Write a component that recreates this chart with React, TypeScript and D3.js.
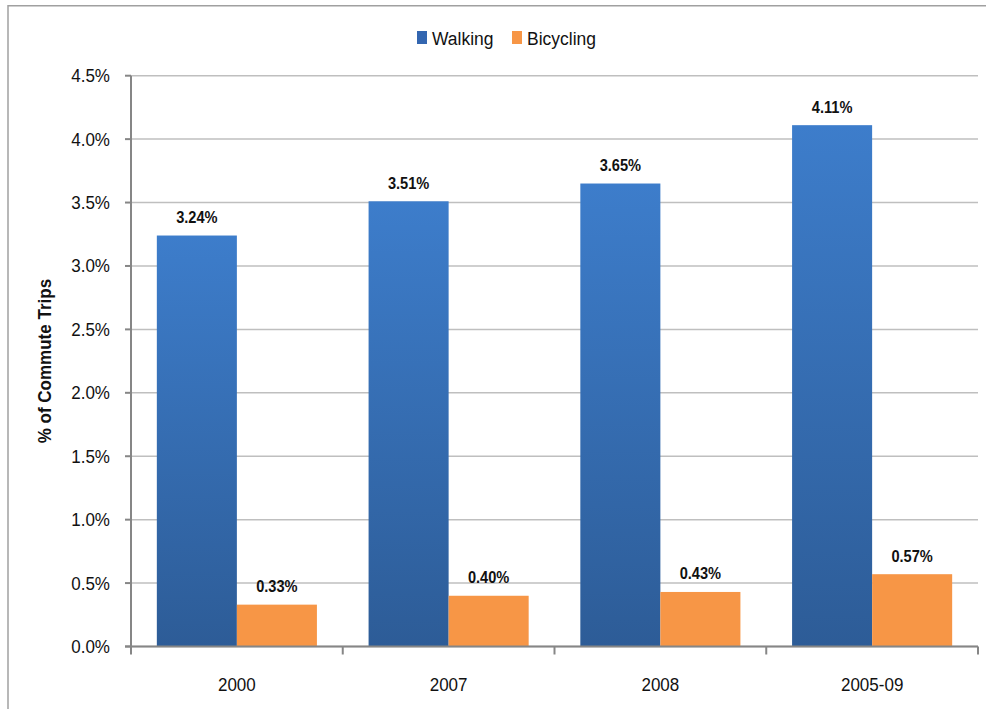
import React from "react";
import * as d3 from "d3";

const categories = ["2000", "2007", "2008", "2005-09"];
const walking = [3.24, 3.51, 3.65, 4.11];
const bicycling = [0.33, 0.4, 0.43, 0.57];
const yTicks = [0, 0.5, 1.0, 1.5, 2.0, 2.5, 3.0, 3.5, 4.0, 4.5];
const seriesNames = ["Walking", "Bicycling"];

const W = 986;
const H = 709;
const left = 131;
const right = 978;
const top = 75.7;
const bottom = 646.5;
const font = "'Liberation Sans', Arial, sans-serif";

export default function App() {
  const x = d3.scaleBand<string>().domain(categories).range([left, right]).paddingInner(0.244).paddingOuter(0.122);
  const x1 = d3.scaleBand<string>().domain(seriesNames).range([0, x.bandwidth()]);
  const y = d3.scaleLinear().domain([0, 4.5]).range([bottom, top]);
  const step = x.step();
  const bounds = categories.map((_, i) => left + i * step).concat([right]);
  const data = [walking, bicycling];

  return (
    <svg width={W} height={H} style={{ position: "absolute", left: 0, top: 0, background: "#fff" }}>
      <defs>
        <linearGradient id="wg" x1="0" y1="0" x2="0" y2="1">
          <stop offset="0%" stopColor="#3d7dcb" />
          <stop offset="100%" stopColor="#2d5c97" />
        </linearGradient>
      </defs>
      <line x1={8} x2={986} y1={5.7} y2={5.7} stroke="#a0a0a0" strokeWidth={1.5} />
      <line x1={8} x2={8} y1={5} y2={709} stroke="#a0a0a0" strokeWidth={1.5} />
      {yTicks.map((t) => (
        <line key={"g" + t} x1={left} x2={right} y1={y(t)} y2={y(t)} stroke="#bfbfbf" strokeWidth={1.5} />
      ))}
      {categories.map((c, i) =>
        seriesNames.map((s, j) => {
          const v = data[j][i];
          const bx = (x(c) as number) + (x1(s) as number);
          const cx = bx + x1.bandwidth() / 2;
          return (
            <g key={c + s}>
              <rect
                x={bx}
                y={y(v)}
                width={x1.bandwidth()}
                height={bottom - y(v)}
                fill={j === 0 ? "url(#wg)" : "#f79646"}
              />
              <text
                transform={`translate(${cx}, ${y(v) - 12.5}) scale(0.86, 1)`}
                textAnchor="middle"
                fontFamily={font}
                fontWeight="bold"
                fontSize={17}
                fill="#111"
              >
                {v.toFixed(2) + "%"}
              </text>
            </g>
          );
        })
      )}
      <line x1={left} x2={left} y1={top} y2={bottom} stroke="#868686" strokeWidth={2} />
      <line x1={left - 6} x2={right} y1={bottom} y2={bottom} stroke="#868686" strokeWidth={2} />
      {yTicks.map((t) => (
        <g key={"t" + t}>
          <line x1={left - 6} x2={left} y1={y(t)} y2={y(t)} stroke="#868686" strokeWidth={2} />
          <text
            transform={`translate(110, ${y(t) + 6.5}) scale(0.92, 1)`}
            textAnchor="end"
            fontFamily={font}
            fontSize={18.5}
            fill="#111"
          >
            {t.toFixed(1) + "%"}
          </text>
        </g>
      ))}
      {bounds.map((b, i) => (
        <line key={"b" + i} x1={b} x2={b} y1={bottom} y2={bottom + 8} stroke="#868686" strokeWidth={2} />
      ))}
      {categories.map((c) => (
        <text
          key={"c" + c}
          transform={`translate(${(x(c) as number) + x.bandwidth() / 2}, 691) scale(0.92, 1)`}
          textAnchor="middle"
          fontFamily={font}
          fontSize={18.5}
          fill="#111"
        >
          {c}
        </text>
      ))}
      <text
        transform={`translate(51, ${(top + bottom) / 2}) rotate(-90) scale(0.92, 1)`}
        textAnchor="middle"
        fontFamily={font}
        fontWeight="bold"
        fontSize={18.5}
        fill="#111"
      >
        % of Commute Trips
      </text>
      <rect x={417} y={31} width={10} height={13} fill="#3366b0" />
      <text transform="translate(432, 44.5) scale(0.92, 1)" fontFamily={font} fontSize={19} fill="#111">Walking</text>
      <rect x={512} y={31} width={10} height={13} fill="#f79646" />
      <text transform="translate(527, 44.5) scale(0.92, 1)" fontFamily={font} fontSize={19} fill="#111">Bicycling</text>
    </svg>
  );
}
